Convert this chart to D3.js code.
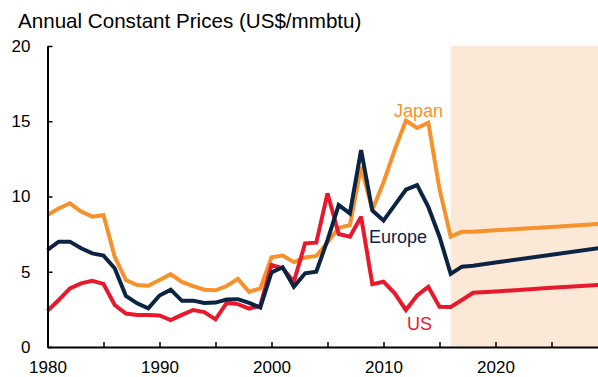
<!DOCTYPE html>
<html>
<head>
<meta charset="utf-8">
<script src="https://cdn.jsdelivr.net/npm/d3@7"></script>
<style>
  html, body { margin: 0; padding: 0; background: #fff; }
  svg { display: block; font-family: "Liberation Sans", Arial, sans-serif; }
</style>
</head>
<body>
<svg id="chart" width="598" height="377"></svg>
<script>
// Annual natural gas prices, constant US$/mmbtu, with projections from 2016
const years = [1980, 1981, 1982, 1983, 1984, 1985, 1986, 1987, 1988, 1989,
               1990, 1991, 1992, 1993, 1994, 1995, 1996, 1997, 1998, 1999,
               2000, 2001, 2002, 2003, 2004, 2005, 2006, 2007, 2008, 2009,
               2010, 2011, 2012, 2013, 2014, 2015, 2016, 2017, 2018, 2020,
               2025, 2030];

const japan = [8.77, 9.2, 9.55, 9.0, 8.66, 8.77, 6.0, 4.45, 4.12, 4.07,
               4.45, 4.84, 4.32, 4.05, 3.81, 3.77, 4.05, 4.52, 3.66, 3.9,
               5.96, 6.08, 5.64, 5.95, 6.05, 6.95, 7.92, 8.1, 11.98, 9.1,
               10.93, 13.1, 15.05, 14.55, 14.9, 10.5, 7.33, 7.66, 7.66, 7.75,
               7.98, 8.21];

const europe = [6.45, 7.0, 7.0, 6.56, 6.22, 6.07, 5.23, 3.39, 2.9, 2.57,
                3.42, 3.81, 3.07, 3.08, 2.92, 2.95, 3.15, 3.18, 2.93, 2.62,
                4.95, 5.3, 4.0, 4.9, 5.0, 7.1, 9.43, 8.88, 13.09, 9.07,
                8.4, 9.43, 10.45, 10.76, 9.32, 7.33, 4.86, 5.34, 5.4, 5.61,
                6.13, 6.65];

const us = [2.4, 3.12, 3.9, 4.23, 4.4, 4.19, 2.79, 2.22, 2.13, 2.13,
            2.1, 1.79, 2.13, 2.46, 2.32, 1.84, 2.93, 2.85, 2.55, 2.75,
            5.45, 5.23, 4.34, 6.89, 6.93, 10.21, 7.51, 7.33, 8.66, 4.18,
            4.34, 3.57, 2.46, 3.42, 4.0, 2.68, 2.66, 3.12, 3.6, 3.69,
            3.93, 4.16];

const yTicks = [0, 5, 10, 15, 20];
const xTicks = [1980, 1985, 1990, 1995, 2000, 2005, 2010, 2015, 2020, 2025];
const xLabels = [1980, 1990, 2000, 2010, 2020];
const forecastStart = 2016;

const series = [
  { name: "Japan",  values: japan,  color: "#F7912C", label: [394, 117] },
  { name: "US",     values: us,     color: "#E8192C", label: [407, 330] },
  { name: "Europe", values: europe, color: "#0B2444", label: [369, 243] }
];

const svg = d3.select("#chart");
const W = 598, H = 377;

const x = d3.scaleLinear().domain([1980, 2030]).range([47.5, 607.5]);
const y = d3.scaleLinear().domain([0, 20]).range([347, 46]);

// projection period shading
svg.append("rect")
  .attr("x", x(forecastStart))
  .attr("y", y(20))
  .attr("width", W - x(forecastStart))
  .attr("height", y(0) - y(20))
  .attr("fill", "#FCE8D6");

// title
svg.append("text")
  .attr("x", 18)
  .attr("y", 28)
  .attr("font-size", 20.6)
  .attr("fill", "#000")
  .text("Annual Constant Prices (US$/mmbtu)");

// lines
const line = d3.line()
  .x((d, i) => x(years[i]))
  .y(d => y(d));

svg.append("clipPath").attr("id", "plot-clip")
  .append("rect").attr("x", 0).attr("y", 0).attr("width", W).attr("height", H);

series.forEach(s => {
  svg.append("path")
    .datum(s.values)
    .attr("d", line)
    .attr("fill", "none")
    .attr("stroke", s.color)
    .attr("stroke-width", 4)
    .attr("stroke-linejoin", "miter")
    .attr("stroke-miterlimit", 3)
    .attr("clip-path", "url(#plot-clip)");
});

// series labels
series.forEach(s => {
  svg.append("text")
    .attr("x", s.label[0])
    .attr("y", s.label[1])
    .attr("font-size", 18)
    .attr("fill", s.color)
    .text(s.name);
});

// axes
const xAxis = d3.axisBottom(x)
  .tickValues(xTicks)
  .tickFormat(d => xLabels.includes(d) ? String(d) : "")
  .tickSizeInner(-5)
  .tickSizeOuter(0)
  .tickPadding(14);

const gx = svg.append("g")
  .attr("transform", `translate(0,${y(0)})`)
  .call(xAxis);

const yAxis = d3.axisLeft(y)
  .tickValues(yTicks)
  .tickSizeInner(-5)
  .tickSizeOuter(0)
  .tickPadding(17);

const gy = svg.append("g")
  .attr("transform", `translate(${x(1980)},0)`)
  .call(yAxis);

[gx, gy].forEach(g => {
  g.select(".domain").attr("stroke", "#000").attr("stroke-width", 2);
  g.selectAll(".tick line").attr("stroke", "#000").attr("stroke-width", 1.5);
  g.selectAll(".tick text")
    .attr("fill", "#000")
    .attr("font-size", 17)
    .attr("font-family", "Liberation Sans, Arial, sans-serif");
});
</script>
</body>
</html>
